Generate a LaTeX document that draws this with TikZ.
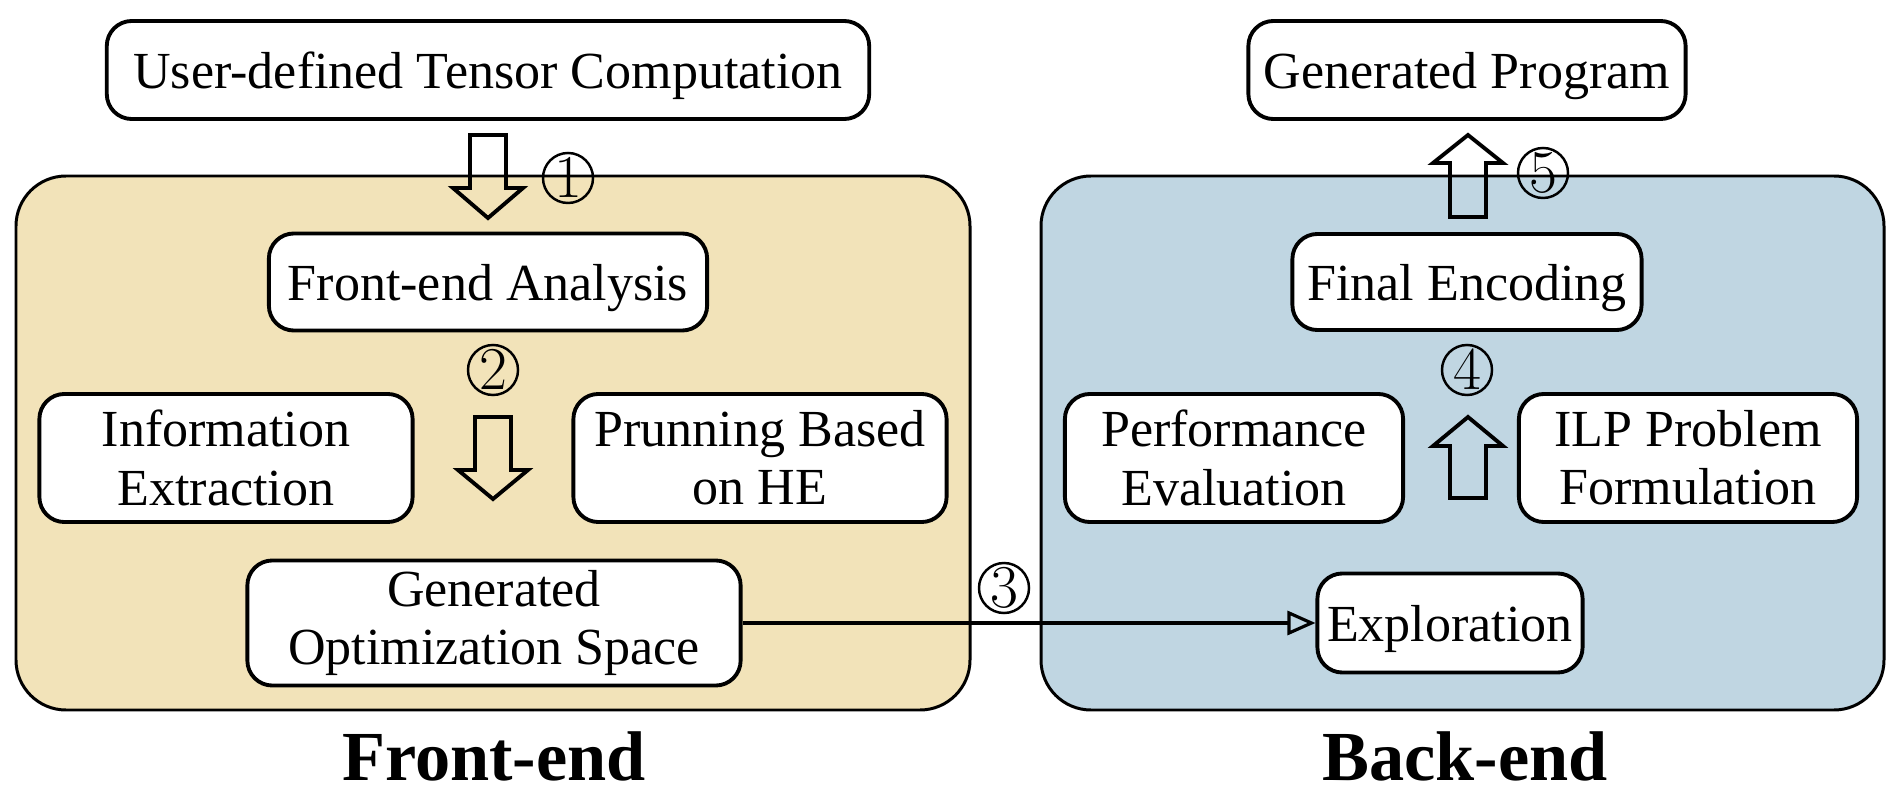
\documentclass[tikz,border=0pt]{standalone}
\usepackage{fontspec}
\setmainfont{Liberation Serif}
\usepackage{tikz}
\usetikzlibrary{arrows.meta,positioning}

\definecolor{frontbg}{RGB}{242,227,185}
\definecolor{backbg}{RGB}{192,214,226}
\newcommand{\boxfont}{\fontsize{14.8}{16.6}\selectfont}
% hollow block arrow: x of axis, y of stem end, y of head base, y of tip
\newcommand{\fatarrow}[4]{%
  \draw[fatline] (#1-18,#2) -- (#1+18,#2) -- (#1+18,#3) -- (#1+35,#3)
    -- (#1,#4) -- (#1-35,#3) -- (#1-18,#3) -- cycle;}

\begin{document}
\begin{tikzpicture}[x=0.01cm, y=-0.01cm,
  panel/.style={draw, line width=0.85pt, rounded corners=0.5cm},
  stage/.style={draw, fill=white, line width=1.1pt, rounded corners=0.25cm,
    align=center, inner sep=0pt, font=\boxfont},
  oneline/.style={stage, text height=13.6pt, text depth=3.2pt},
  num/.style={circle, draw, line width=0.7pt, minimum size=0.5cm, inner sep=0pt,
    font=\fontsize{17}{17}\selectfont},
  fatline/.style={line width=1.1pt, line join=miter},
  title/.style={font=\fontsize{20}{24}\selectfont\bfseries}
]
\useasboundingbox (0,0) rectangle (1902,794);

\draw[panel, fill=frontbg] (16,176) rectangle (970,710);
\draw[panel, fill=backbg] (1041,176) rectangle (1884,710);

\node[oneline, minimum width=7.62cm, minimum height=0.98cm] (input) at (488,70) {User-defined Tensor Computation};
\node[oneline, minimum width=4.37cm, minimum height=0.98cm] (output) at (1467,70) {Generated Program};

\node[oneline, minimum width=4.38cm, minimum height=0.97cm] (analysis) at (488,282) {Front-end Analysis};
\node[stage, minimum width=3.73cm, minimum height=1.28cm] (extract) at (226,458) {Information\\Extraction};
\node[stage, minimum width=3.73cm, minimum height=1.28cm] (prune) at (760,458) {Prunning Based\\on HE};
\node[stage, minimum width=4.93cm, minimum height=1.25cm] (space) at (494,623) {Generated\\Optimization Space};

\node[oneline, minimum width=3.49cm, minimum height=0.96cm] (encode) at (1467,282) {Final Encoding};
\node[stage, minimum width=3.38cm, minimum height=1.28cm] (perf) at (1234,458) {Performance\\Evaluation};
\node[stage, minimum width=3.38cm, minimum height=1.28cm] (ilp) at (1688,458) {ILP Problem\\Formulation};
\node[oneline, minimum width=2.65cm, minimum height=0.99cm] (explore) at (1450,623) {Exploration};

\node[title] (fronttitle) at (494,756) {Front-end};
\node[title] (backtitle) at (1465,756) {Back-end};

\fatarrow{488}{135}{188}{218}
\fatarrow{493}{417}{470}{499}
\fatarrow{1468}{498}{446}{417}
\fatarrow{1468}{217}{163}{135}

\node[num] (n1) at (568,178) {$1$};
\node[num] (n2) at (493,370) {$2$};
\node[num] (n3) at (1004,588) {$3$};
\node[num] (n4) at (1467,370) {$4$};
\node[num] (n5) at (1543,173) {$5$};

\draw[line width=0.9pt, -{Triangle[open, length=0.28cm, width=0.24cm]}] (space) -- (explore);
\end{tikzpicture}
\end{document}
